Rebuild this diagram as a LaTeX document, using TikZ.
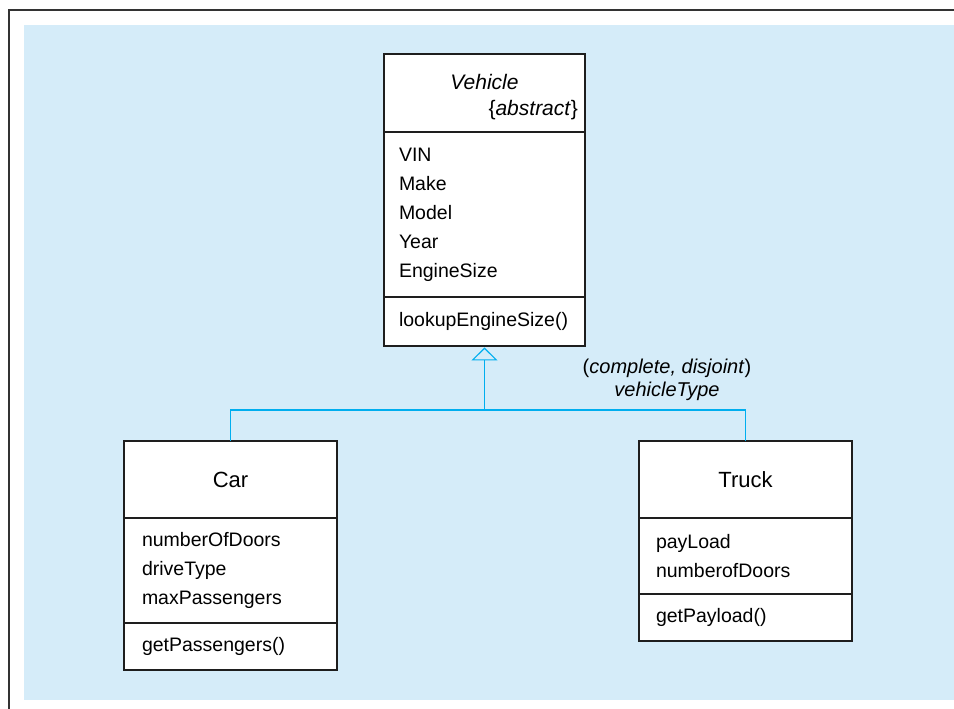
\documentclass[tikz,border=0pt]{standalone}
\usepackage{fontspec}
\setmainfont{Liberation Sans}
\usetikzlibrary{arrows.meta}
\definecolor{panel}{RGB}{213,236,249}
\definecolor{linkc}{RGB}{0,174,239}
\definecolor{boxline}{RGB}{30,30,30}
\begin{document}
\begin{tikzpicture}[x=1pt,y=1pt,
  cls/.style={draw=boxline, line width=1.1pt, fill=white, anchor=north west,
    inner ysep=0pt, outer sep=0pt, align=left,
    font=\fontsize{19.5}{29}\selectfont},
  clsname/.style={cls, align=center, font=\fontsize{22}{26}\selectfont},
  link/.style={draw=linkc, line width=1.1pt},
  frameline/.style={draw=black!80, line width=1.6pt},
  gslabel/.style={align=center, inner sep=0pt, font=\fontsize{20}{23}\selectfont}
]
\useasboundingbox (0,0) rectangle (954,709);
\fill[panel] (24,9) rectangle (954,684);
\draw[frameline] (9,0) -- (9,699) -- (954,699);

% Vehicle
\node[cls, text width=187pt, inner xsep=7pt, minimum height=78pt,
      font=\fontsize{21}{26}\selectfont] (veh-name) at (384,655)
  {\rule{0pt}{23pt}\makebox[187pt][c]{\textit{Vehicle}}\\\makebox[187pt][r]{\{\textit{abstract}\}}};
\node[cls, text width=171pt, inner xsep=15pt, minimum height=165pt] (veh-attr)
  at (veh-name.south west) {VIN\\Make\\Model\\Year\\EngineSize};
\node[cls, text width=171pt, inner xsep=15pt, minimum height=49pt] (veh-ops)
  at (veh-attr.south west) {lookupEngineSize()};

% Car
\node[clsname, text width=177pt, inner xsep=18pt, minimum height=77pt] (car-name)
  at (124,268) {Car};
\node[cls, text width=177pt, inner xsep=18pt, minimum height=105pt] (car-attr)
  at (car-name.south west) {numberOfDoors\\driveType\\maxPassengers};
\node[cls, text width=177pt, inner xsep=18pt, minimum height=47pt] (car-ops)
  at (car-attr.south west) {getPassengers()};

% Truck
\node[clsname, text width=179pt, inner xsep=17pt, minimum height=77pt] (truck-name)
  at (639,268) {Truck};
\node[cls, text width=179pt, inner xsep=17pt, minimum height=76pt] (truck-attr)
  at (truck-name.south west) {payLoad\\numberofDoors};
\node[cls, text width=179pt, inner xsep=17pt, minimum height=47pt] (truck-ops)
  at (truck-attr.south west) {getPayload()};

% generalization
\coordinate (jn) at ([yshift=-64pt]veh-ops.south);
\draw[link, -{Triangle[open, width=26pt, length=13pt]}, shorten >=1.5pt]
  (jn) -- (veh-ops.south);
\draw[link] (car-name.north) |- (jn) -| (truck-name.north);

\node[gslabel] (gs-label) at (667,329)
  {(\textit{complete, disjoint})\\\textit{vehicleType}};
\end{tikzpicture}
\end{document}
